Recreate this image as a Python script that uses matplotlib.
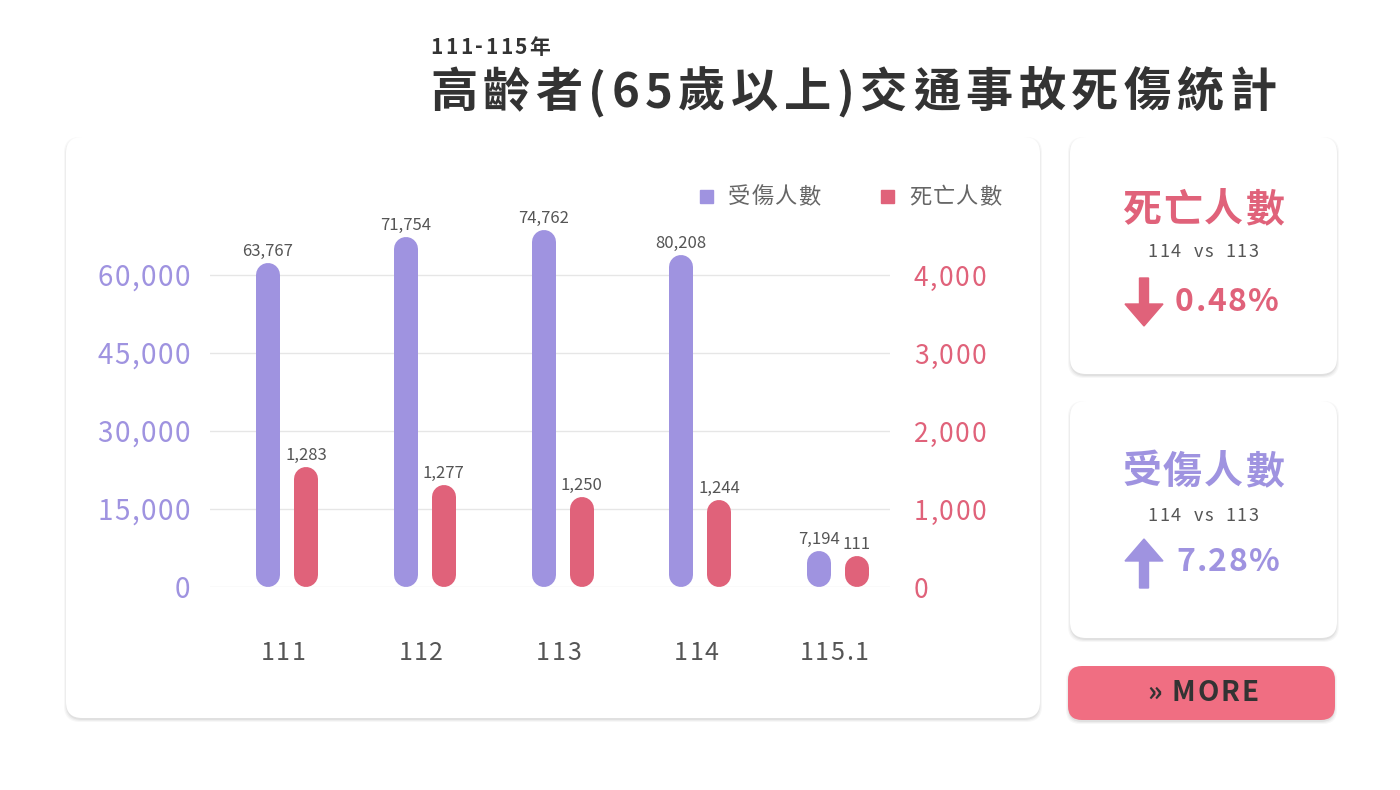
import matplotlib
matplotlib.use("Agg")
import matplotlib.pyplot as plt
from matplotlib.patches import FancyBboxPatch, FancyArrow
import numpy as np

plt.rcParams['font.family'] = ['Noto Sans CJK TC', 'DejaVu Sans']

years = ['111', '112', '113', '114', '115.1']
injury_labels = [63767, 71754, 74762, 80208, 7194]
death_labels = [1283, 1277, 1250, 1244, 111]
# bar heights as drawn in the reference
injury_heights = [62300, 67300, 68650, 63800, 6920]
death_heights = [1538, 1308, 1154, 1115, 397]
left_ticks = [0, 15000, 30000, 45000, 60000]
right_ticks = [0, 1000, 2000, 3000, 4000]

PURPLE = '#9f93e0'
RED = '#e0627a'
W, H = 1400, 790
fig = plt.figure(figsize=(14, 7.9), dpi=100)
fig.patch.set_facecolor('white')
bg = fig.add_axes([0, 0, 1, 1])
bg.set_xlim(0, W); bg.set_ylim(H, 0); bg.axis('off')
renderer = fig.canvas.get_renderer()

def stext(x, y, s, spacing, ha='left', **kw):
    """Letter-spaced text in pixel coords of bg."""
    widths = []
    tmp = []
    for ch in s:
        if ch == ' ':
            a = bg.text(0, 0, 'a a', **kw); b = bg.text(0, 0, 'aa', **kw)
            tmp += [a, b]
            widths.append(a.get_window_extent(renderer).width - b.get_window_extent(renderer).width)
        else:
            t = bg.text(0, 0, ch, **kw); tmp.append(t)
            widths.append(t.get_window_extent(renderer).width)
    for t in tmp:
        t.remove()
    total = sum(widths) + spacing * (len(s) - 1)
    if ha == 'center':
        x -= total / 2
    elif ha == 'right':
        x -= total
    for ch, w in zip(s, widths):
        bg.text(x, y, ch, va='center', ha='left', **kw)
        x += w + spacing

def card(x0, y0, x1, y1, fc='white', r=16):
    for i, a in enumerate([0.05, 0.04, 0.03]):
        bg.add_patch(FancyBboxPatch((x0 - i, y0 + 2 - i), x1 - x0 + 2 * i, y1 - y0 + 2 * i,
                                    boxstyle=f"round,pad=0,rounding_size={r}", fc='black', ec='none', alpha=a))
    bg.add_patch(FancyBboxPatch((x0, y0), x1 - x0, y1 - y0,
                                boxstyle=f"round,pad=0,rounding_size={r}", fc=fc, ec='none'))

card(66, 137, 1040, 718)
card(1070, 137, 1337, 374)
card(1070, 401, 1337, 638)
card(1068, 666, 1335, 720, fc='#f06e82', r=14)

stext(430, 47, '111-115年', 2.5, fontsize=15, fontweight='bold', color='#333')
stext(430, 93, '高齡者(65歲以上)交通事故死傷統計', 5.5, fontsize=34, fontweight='bold', color='#333')

stext(1203, 210, '死亡人數', 2, ha='center', fontsize=28, fontweight='bold', color=RED)
stext(1203, 252, '114  vs  113', 1.5, ha='center', fontsize=13, color='#555')
bg.add_patch(FancyArrow(1144, 278, 0, 48, width=9, head_width=38, head_length=22,
                        length_includes_head=True, color=RED))
stext(1175, 302, '0.48%', 1.5, fontsize=23, fontweight='bold', color=RED)

stext(1203, 472, '受傷人數', 2, ha='center', fontsize=28, fontweight='bold', color=PURPLE)
stext(1203, 516, '114  vs  113', 1.5, ha='center', fontsize=13, color='#555')
bg.add_patch(FancyArrow(1144, 588, 0, -49, width=9, head_width=38, head_length=22,
                        length_includes_head=True, color=PURPLE))
stext(1176, 562, '7.28%', 1.5, fontsize=23, fontweight='bold', color=PURPLE)

stext(1203, 693, '» MORE', 2, ha='center', fontsize=20, fontweight='bold', color='#333')

# chart axes
ax_l, ax_r, ax_t, ax_b = 210, 890, 200, 587
ax = fig.add_axes([ax_l / W, 1 - ax_b / H, (ax_r - ax_l) / W, (ax_b - ax_t) / H])
ax.patch.set_alpha(0)
ymax = 60000 * (ax_b - ax_t) / (587 - 275)
ax.set_ylim(0, ymax)
x = np.arange(len(years))
sp = (838 - 287) / 4
ax.set_xlim(-(287 - ax_l) / sp, 4 + (ax_r - 838) / sp)
ax2 = ax.twinx()
ax2.set_ylim(0, 4000 * (ax_b - ax_t) / (587 - 275))
for a in (ax, ax2):
    for s in a.spines.values():
        s.set_visible(False)
    a.set_yticks([])
ax.set_xticks([])
ax.set_yticks(left_ticks)
ax.set_yticklabels([])
ax.tick_params(axis='y', length=0)
ax.grid(axis='y', color='#e6e6e6', lw=1)
ax.set_axisbelow(True)

def to_px(a, xv, yv):
    px, py = a.transData.transform((xv, yv))
    return px, H - py

for v in left_ticks:
    px, py = to_px(ax, ax.get_xlim()[0], v)
    stext(px - 20, py + 3, f'{v:,}', 1.5, ha='right', fontsize=20, color=PURPLE)
for v in right_ticks:
    px, py = to_px(ax2, ax.get_xlim()[1], v)
    stext(px + 24, py + 3, f'{v:,}', 1.5, ha='left', fontsize=19, color=RED)
for i, lab in enumerate(years):
    px, _ = to_px(ax, x[i], 0)
    stext(px - 4, 653, lab, 1.5, ha='center', fontsize=18, color='#555')

off = 19 / sp
lw_pt = 24 * 72 / 100
rl = 12 * ymax / (ax_b - ax_t)
rr = 12 * ax2.get_ylim()[1] / (ax_b - ax_t)
for i in range(len(years)):
    ax.plot([x[i] - off] * 2, [rl, max(injury_heights[i] - rl, rl + 1)], color=PURPLE,
            lw=lw_pt, solid_capstyle='round')
    ax.text(x[i] - off, injury_heights[i] + 600, f'{injury_labels[i]:,}', ha='center', va='bottom',
            fontsize=12, color='#555')
    ax2.plot([x[i] + off] * 2, [rr, max(death_heights[i] - rr, rr + 1)], color=RED,
             lw=lw_pt, solid_capstyle='round')
    ax2.text(x[i] + off, death_heights[i] + 40, f'{death_labels[i]:,}', ha='center', va='bottom',
             fontsize=12, color='#555')

# legend
bg.add_patch(plt.Rectangle((700, 190), 13, 13, color=PURPLE))
stext(728, 197, '受傷人數', 1, fontsize=16, color='#666')
bg.add_patch(plt.Rectangle((881, 190), 13, 13, color=RED))
stext(909, 197, '死亡人數', 1, fontsize=16, color='#666')

fig.savefig('out.png', dpi=100)
